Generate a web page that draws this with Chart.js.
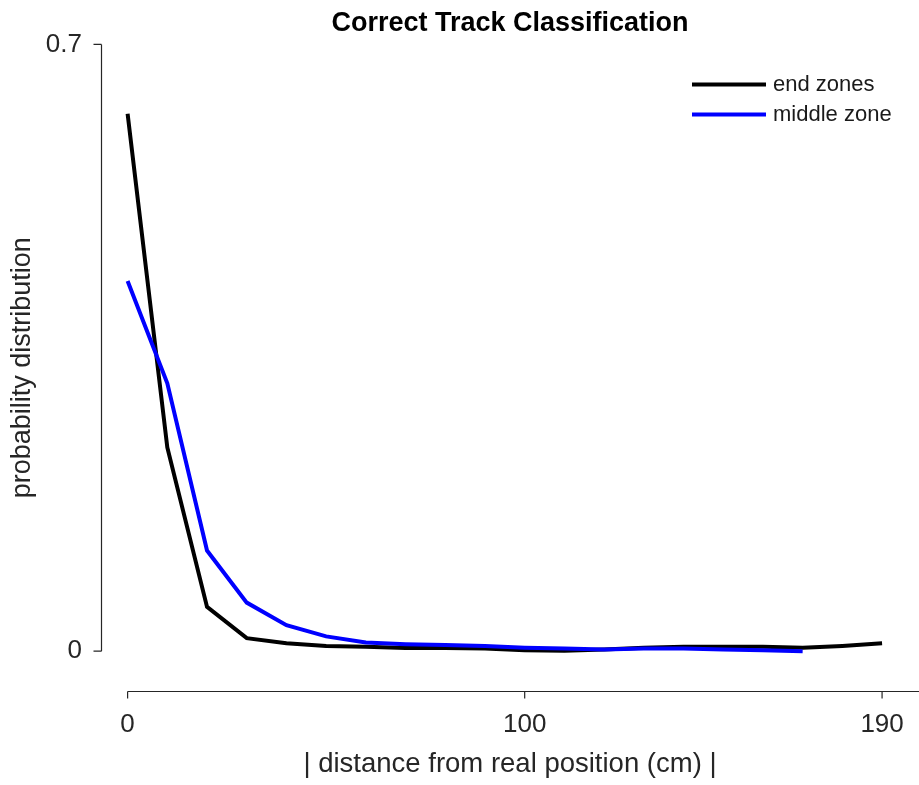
<!DOCTYPE html>
<html>
<head>
<meta charset="utf-8">
<title>Correct Track Classification</title>
<script src="https://cdn.jsdelivr.net/npm/chart.js@4/dist/chart.umd.min.js"></script>
<style>
  html, body { margin: 0; padding: 0; background: #fff; }
  #wrap { width: 919px; height: 785px; }
</style>
</head>
<body>
<div id="wrap"><canvas id="chart" width="919" height="785"></canvas></div>
<script>
// distance bins (cm) and probability per bin
const endDistances = [0, 10, 20, 30, 40, 50, 60, 70, 80, 90, 100, 110, 120, 130, 140, 150, 160, 170, 180, 190];
const endZones = [0.620, 0.235, 0.051, 0.015, 0.009, 0.006, 0.005, 0.0035, 0.0035, 0.003,
                  0.001, 0.0005, 0.002, 0.004, 0.005, 0.005, 0.005, 0.004, 0.006, 0.009];

const middleDistances = [0, 10, 20, 30, 40, 50, 60, 70, 80, 90, 100, 110, 120, 130, 140, 150, 160, 170];
const middleZone = [0.427, 0.309, 0.116, 0.056, 0.030, 0.017, 0.010, 0.008, 0.007, 0.006,
                    0.004, 0.003, 0.002, 0.003, 0.003, 0.002, 0.001, 0.0];

const xTicks = [0, 100, 190];
const yTicks = [0, 0.7];

const FONT = "'Liberation Sans', Arial, Helvetica, sans-serif";
const AXIS_COLOR = '#262626';

function toPoints(xs, ys) {
    return xs.map((x, i) => ({ x: x, y: ys[i] }));
}

// MATLAB-like detached axes: spines only span the tick range, ticks point outward
const spinesPlugin = {
    id: 'spines',
    afterDraw(chart) {
        const { ctx, chartArea } = chart;
        const xs = chart.scales.x, ys = chart.scales.y;
        ctx.save();
        ctx.strokeStyle = AXIS_COLOR;
        ctx.lineWidth = 1.2;

        const left = chartArea.left + 0.5;
        ctx.beginPath();
        ctx.moveTo(left, ys.getPixelForValue(yTicks[0]));
        ctx.lineTo(left, ys.getPixelForValue(yTicks[yTicks.length - 1]));
        yTicks.forEach(v => {
            const py = ys.getPixelForValue(v);
            ctx.moveTo(left - 8, py);
            ctx.lineTo(left, py);
        });
        ctx.stroke();

        const bottom = chartArea.bottom + 0.5;
        ctx.beginPath();
        ctx.moveTo(xs.getPixelForValue(xTicks[0]), bottom);
        ctx.lineTo(chartArea.right, bottom);
        xTicks.forEach(v => {
            const px = xs.getPixelForValue(v);
            ctx.moveTo(px, bottom);
            ctx.lineTo(px, bottom + 7);
        });
        ctx.stroke();

        // legend, stacked in the top right corner of the plot
        const x0 = chartArea.right - 227, x1 = chartArea.right - 153;
        ctx.font = '22px ' + FONT;
        ctx.textBaseline = 'middle';
        ctx.textAlign = 'left';
        chart.data.datasets.forEach((ds, i) => {
            const yy = chartArea.top + 40 + i * 30;
            ctx.strokeStyle = ds.borderColor;
            ctx.lineWidth = ds.borderWidth;
            ctx.beginPath();
            ctx.moveTo(x0, yy);
            ctx.lineTo(x1, yy);
            ctx.stroke();
            ctx.fillStyle = '#1a1a1a';
            ctx.fillText(ds.label, x1 + 7, yy + 1);
        });
        ctx.restore();
    }
};

new Chart(document.getElementById('chart'), {
    type: 'line',
    data: {
        datasets: [
            {
                label: 'end zones',
                data: toPoints(endDistances, endZones),
                borderColor: '#000000',
                borderWidth: 4,
                pointRadius: 0,
                tension: 0,
                order: 1
            },
            {
                label: 'middle zone',
                data: toPoints(middleDistances, middleZone),
                borderColor: '#0000ff',
                borderWidth: 4,
                pointRadius: 0,
                tension: 0,
                order: 0
            }
        ]
    },
    options: {
        responsive: false,
        animation: false,
        devicePixelRatio: 1,
        layout: { padding: 0 },
        plugins: {
            legend: { display: false },
            tooltip: { enabled: false },
            title: {
                display: true,
                text: 'Correct Track Classification',
                fullSize: false,
                color: '#000',
                font: { family: FONT, size: 27, weight: 'bold' },
                padding: { top: 7, bottom: 5 }
            }
        },
        scales: {
            x: {
                type: 'linear',
                min: -6.7,
                max: 199.3,
                offset: false,
                afterBuildTicks: s => { s.ticks = xTicks.map(v => ({ value: v })); },
                afterFit: s => { s.height = 94; s.paddingLeft = 0; s.paddingRight = 0; },
                grid: { display: false, drawTicks: false },
                border: { display: false },
                ticks: {
                    color: AXIS_COLOR,
                    font: { family: FONT, size: 26 },
                    padding: 18,
                    maxRotation: 0,
                    autoSkip: false,
                    callback: v => String(v)
                },
                title: {
                    display: true,
                    text: '| distance from real position (cm) |',
                    color: AXIS_COLOR,
                    font: { family: FONT, size: 27.5 },
                    padding: { top: 4, bottom: 4 }
                }
            },
            y: {
                type: 'linear',
                min: -0.046,
                max: 0.7,
                afterBuildTicks: s => { s.ticks = yTicks.map(v => ({ value: v })); },
                afterFit: s => { s.width = 101; },
                grid: { display: false, drawTicks: false },
                border: { display: false },
                ticks: {
                    color: AXIS_COLOR,
                    font: { family: FONT, size: 26 },
                    padding: 19,
                    autoSkip: false,
                    callback: v => String(v)
                },
                title: {
                    display: true,
                    text: 'probability distribution',
                    color: AXIS_COLOR,
                    font: { family: FONT, size: 27 },
                    padding: { top: 6, bottom: 0 }
                }
            }
        }
    },
    plugins: [spinesPlugin]
});
</script>
</body>
</html>
